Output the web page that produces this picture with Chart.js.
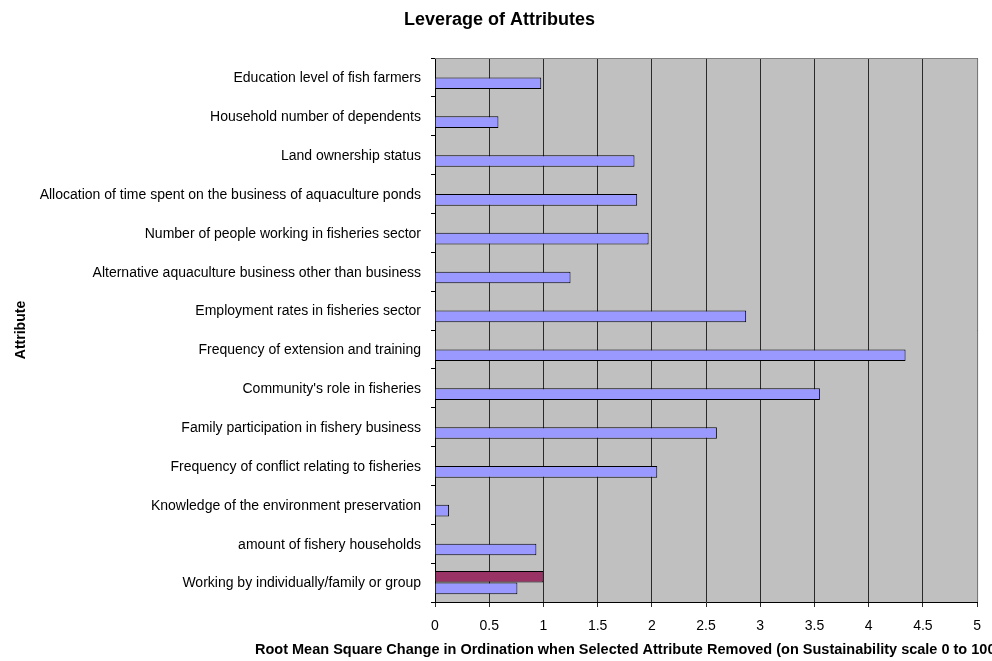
<!DOCTYPE html>
<html>
<head>
<meta charset="utf-8">
<script src="https://cdn.jsdelivr.net/npm/chart.js@4"></script>
<style>
  html, body { margin: 0; padding: 0; background: #fff; }
  #wrap { width: 992px; height: 661px; }
</style>
</head>
<body>
<div id="wrap"><canvas id="chart" width="992" height="661"></canvas></div>
<script>
const attributes = [
  "Education level of fish farmers",
  "Household number of dependents",
  "Land ownership status",
  "Allocation of time spent on the business of aquaculture ponds",
  "Number of people working in fisheries sector",
  "Alternative aquaculture business other than business",
  "Employment rates in fisheries sector",
  "Frequency of extension and training",
  "Community's role in fisheries",
  "Family participation in fishery business",
  "Frequency of conflict relating to fisheries",
  "Knowledge of the environment preservation",
  "amount of fishery households",
  "Working by individually/family or group"
];
const leverage = [0.98, 0.585, 1.84, 1.865, 1.97, 1.25, 2.87, 4.34, 3.55, 2.6, 2.05, 0.13, 0.935, 0.76];
const reference = [null, null, null, null, null, null, null, null, null, null, null, null, null, 1.0];
const xTicks = [0, 0.5, 1, 1.5, 2, 2.5, 3, 3.5, 4, 4.5, 5];

const FONT = "'Liberation Sans', Arial, sans-serif";
Chart.defaults.font.family = FONT;
Chart.defaults.color = "#000";

// grey plot area + border, and the x axis title that runs off the canvas
const plotFrame = {
  id: "plotFrame",
  beforeDraw(chart) {
    const { ctx, chartArea: a } = chart;
    ctx.save();
    ctx.fillStyle = "#c0c0c0";
    ctx.fillRect(a.left, a.top, a.right - a.left, a.bottom - a.top);
    ctx.restore();
  },
  afterDraw(chart) {
    const { ctx, chartArea: a } = chart;
    ctx.save();
    ctx.strokeStyle = "#808080";
    ctx.lineWidth = 1;
    ctx.beginPath();
    ctx.moveTo(a.left, a.top + 0.5);
    ctx.lineTo(a.right + 0.5, a.top + 0.5);
    ctx.lineTo(a.right + 0.5, a.bottom);
    ctx.stroke();
    ctx.fillStyle = "#000";
    ctx.font = "bold 14.5px " + FONT;
    ctx.textAlign = "left";
    ctx.textBaseline = "middle";
    ctx.fillText("Root Mean Square Change in Ordination when Selected Attribute Removed (on Sustainability scale 0 to 100)", 255, 650);
    ctx.restore();
  }
};

new Chart(document.getElementById("chart"), {
  type: "bar",
  data: {
    labels: attributes,
    datasets: [
      {
        label: "Reference",
        data: reference,
        backgroundColor: "#993366",
        borderColor: "#000",
        borderWidth: 1,
        categoryPercentage: 0.6,
        barPercentage: 1
      },
      {
        label: "Leverage",
        data: leverage,
        backgroundColor: "#9999ff",
        borderColor: "#000",
        borderWidth: 1,
        categoryPercentage: 0.6,
        barPercentage: 1
      }
    ]
  },
  options: {
    indexAxis: "y",
    responsive: false,
    animation: false,
    layout: { padding: { left: 13, right: 6, top: 0, bottom: 0 } },
    plugins: {
      legend: { display: false },
      tooltip: { enabled: false },
      title: {
        display: true,
        text: "Leverage of Attributes",
        font: { size: 18, weight: "bold" },
        padding: { top: 9, bottom: 27.4 }
      }
    },
    scales: {
      x: {
        min: 0,
        max: 5,
        afterBuildTicks(scale) {
          scale.ticks = xTicks.map(v => ({ value: v }));
        },
        afterFit(scale) { scale.height = 59; },
        grid: { color: "#2a2a2a", lineWidth: 1, tickLength: 5 },
        border: { color: "#000", width: 1 },
        ticks: {
          font: { size: 14 },
          padding: 11,
          maxRotation: 0,
          callback: v => String(v)
        }
      },
      y: {
        afterFit(scale) { scale.width = 422; },
        grid: { drawOnChartArea: false, color: "#000", tickLength: 4 },
        border: { color: "#000", width: 1 },
        ticks: { font: { size: 14 }, padding: 10, autoSkip: false, labelOffset: 1 },
        title: {
          display: true,
          text: "Attribute",
          font: { size: 14, weight: "bold" },
          padding: { top: 0, bottom: 0 }
        }
      }
    }
  },
  plugins: [plotFrame]
});
</script>
</body>
</html>
